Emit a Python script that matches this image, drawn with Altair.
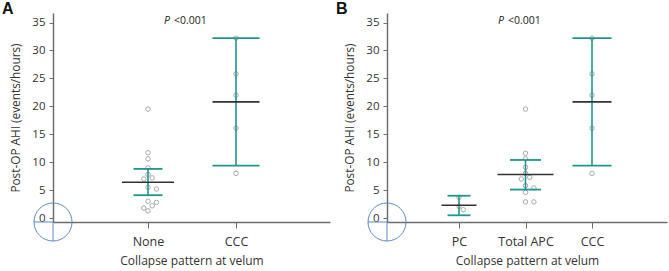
import json
import altair as alt
import pandas as pd

# ---------------- data ----------------
A_CATS = ["None", "CCC"]
A_NONE = [19.5, 11.7, 10.6, 9.0, 7.8, 7.2, 7.0, 5.5, 5.2, 3.0, 2.8, 2.2, 1.8, 1.3]
A_CCC = [32.2, 25.8, 22.0, 16.1, 8.0]
A_MEAN = [6.4, 20.8]
A_LOW = [4.1, 9.4]
A_HIGH = [8.8, 32.2]

B_CATS = ["PC", "Total APC", "CCC"]
B_PC = [3.7, 2.1, 1.5]
B_APC = [19.5, 11.6, 10.6, 9.1, 8.0, 7.3, 7.0, 5.8, 5.4, 4.6, 2.9, 2.9]
B_CCC = [32.2, 25.8, 22.0, 16.1, 8.0]
B_MEAN = [2.3, 7.8, 20.8]
B_LOW = [0.5, 5.1, 9.4]
B_HIGH = [4.0, 10.4, 32.2]

Y_TICKS = [0, 5, 10, 15, 20, 25, 30, 35]
P_TEXT = "<0.001"

# ---------------- styles ----------------
TEAL = "#21968f"
MEANC = "#333333"
PTC = "#a9a9a9"
BLUE = "#5b8bc5"
AXC = "#6e6e6e"
FONT = "Open Sans"
H = 209
YDOM = [-0.7, 36.7]
A_CAP_PX = [29, 47]
A_MEAN_PX = [52, 47]
B_CAP_PX = [23, 31, 39]
B_MEAN_PX = [35, 56, 39]


def swarm(vals, step_px):
    """deterministic beeswarm offsets (in category units)"""
    ppu = H / (YDOM[1] - YDOM[0])
    placed, offs = [], []
    for v in vals:
        y = v * ppu
        for k in [0, 1, -1, 2, -2, 3, -3]:
            x = k * 4.2
            if all((x - px) ** 2 + (y - py) ** 2 >= 4.8 ** 2 for px, py in placed):
                break
        placed.append((x, y))
        offs.append(x / step_px)
    return offs


def panel(letter, cats, groups, mean, low, high, cap_px, mean_px, W, first_px, step_px):
    xmin = -first_px / step_px
    xmax = (W - first_px) / step_px
    rows = []
    for i, vals in enumerate(groups):
        for v, o in zip(vals, swarm(vals, step_px)):
            rows.append({"xp": i + o, "v": v})
    pts = pd.DataFrame(rows)
    summ = pd.DataFrame({
        "idx": list(range(len(cats))),
        "mean": mean, "low": low, "high": high,
    })
    summ["c1"] = summ["idx"] - [c / 2 / step_px for c in cap_px]
    summ["c2"] = summ["idx"] + [c / 2 / step_px for c in cap_px]
    summ["m1"] = summ["idx"] - [c / 2 / step_px for c in mean_px]
    summ["m2"] = summ["idx"] + [c / 2 / step_px for c in mean_px]

    xscale = alt.Scale(domain=[xmin, xmax], nice=False, zero=False)
    xaxis = alt.Axis(values=list(range(len(cats))),
                     labelExpr=f"{json.dumps(cats)}[datum.value]",
                     title="Collapse pattern at velum", grid=False,
                     tickSize=6, labelPadding=7, titlePadding=8,
                     labelFontSize=12.5, titleFontSize=12)
    yscale = alt.Scale(domain=YDOM, nice=False, zero=False)
    yaxis = alt.Axis(values=Y_TICKS, title="Post-OP AHI (events/hours)",
                     grid=False, tickSize=4, labelPadding=4, titlePadding=10,
                     labelFontSize=11.5, titleFontSize=11.8)

    def X(f):
        return alt.X(f, type="quantitative", scale=xscale, axis=xaxis)

    def Y(f):
        return alt.Y(f, type="quantitative", scale=yscale, axis=yaxis)

    points = alt.Chart(pts).mark_point(shape="circle", filled=False, size=20,
                                       stroke=PTC, strokeWidth=1, opacity=1).encode(
        x=X("xp"), y=Y("v"))
    vbar = alt.Chart(summ).mark_rule(color=TEAL, strokeWidth=1.6).encode(
        x=X("idx"), y=Y("low"), y2="high")
    caplo = alt.Chart(summ).mark_rule(color=TEAL, strokeWidth=1.8).encode(
        x=X("c1"), x2="c2", y=Y("low"))
    caphi = alt.Chart(summ).mark_rule(color=TEAL, strokeWidth=1.8).encode(
        x=X("c1"), x2="c2", y=Y("high"))
    mline = alt.Chart(summ).mark_rule(color=MEANC, strokeWidth=1.6).encode(
        x=X("m1"), x2="m2", y=Y("mean"))

    anno = alt.Chart(pd.DataFrame({"t": [0]}))
    circ = anno.mark_point(shape="circle", filled=False, size=1444, stroke=BLUE,
                           strokeWidth=1, opacity=1).encode(
        x=alt.value(0), y=alt.value(H))
    vcross = anno.mark_rule(color=BLUE, strokeWidth=1).encode(
        x=alt.value(0), y=alt.value(H), y2=alt.value(H + 19))
    hcross = anno.mark_rule(color=BLUE, strokeWidth=1).encode(
        x=alt.value(-19), x2=alt.value(0), y=alt.value(H))
    lab = anno.mark_text(text=letter, font="Liberation Sans", fontSize=16,
                         fontWeight="bold", align="left", baseline="top",
                         color="#111").encode(x=alt.value(-51), y=alt.value(-12))
    ptxt1 = anno.mark_text(text="P", font=FONT, fontSize=10.5, fontStyle="italic",
                           align="right", baseline="middle", color="#222").encode(
        x=alt.value(117), y=alt.value(8))
    ptxt2 = anno.mark_text(text=P_TEXT, font=FONT, fontSize=10.5,
                           align="left", baseline="middle", color="#222").encode(
        x=alt.value(121), y=alt.value(8))

    return alt.layer(circ, vcross, hcross, points, vbar, caplo, caphi, mline,
                     lab, ptxt1, ptxt2).properties(width=W, height=H)


pa = panel("A", A_CATS, [A_NONE, A_CCC], A_MEAN, A_LOW, A_HIGH,
           A_CAP_PX, A_MEAN_PX, 277, 95, 88)
pb = panel("B", B_CATS, [B_PC, B_APC, B_CCC], B_MEAN, B_LOW, B_HIGH,
           B_CAP_PX, B_MEAN_PX, 280, 72, 66.5)

chart = alt.hconcat(pa, pb, spacing=57, bounds="flush").configure(
    padding={"left": 2, "top": 1, "right": 2, "bottom": 4},
    font=FONT,
).configure_view(stroke=None).configure_axis(
    domainColor=AXC, tickColor=AXC, domainWidth=1.5, tickWidth=1,
    labelColor="#333", titleColor="#333", labelFont=FONT, titleFont=FONT,
    titleFontWeight="normal",
)

chart.save("out.html", embed_options={"renderer": "svg", "actions": False})
